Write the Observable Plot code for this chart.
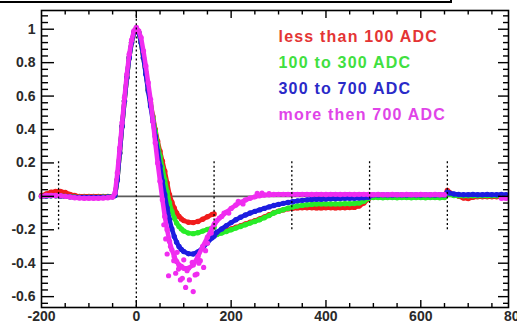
<!DOCTYPE html>
<html><head><meta charset="utf-8">
<script src="https://cdn.jsdelivr.net/npm/d3@7"></script>
<script src="https://cdn.jsdelivr.net/npm/@observablehq/plot@0.6"></script>
<style>
html,body{margin:0;padding:0;background:#fff;}
#wrap{position:relative;width:517px;height:323px;overflow:hidden;}
#titlebox{position:absolute;left:-2px;top:-2px;width:452px;height:3px;border-bottom:2px solid #000;border-right:2px solid #000;}
</style></head><body><div id="wrap"><div id="titlebox"></div></div>
<script>
// ---- data ----
const X = [-200,-190,-180,-170,-160,-150,-140,-130,-120,-110,-100,-90,-80,-70,-60,-50,-45,-40,-35,-30,-25,-20,-15,-10,-5,0,5,10,15,20,25,30,35,40,45,50,55,60,65,70,75,80,85,90,95,100,110,120,130,140,150,160,164,
166,170,180,190,200,210,220,230,240,250,260,270,280,290,300,310,320,330,340,350,360,370,380,390,400,410,420,430,440,450,460,470,480,490,
494,500,510,520,530,540,550,560,570,580,590,600,610,620,630,640,650,656,660,670,680,690,700,710,720,730,740,750,760,770,780];
const segmentStarts = [-200, 166, 494];

const seriesNames = ["less than 100 ADC", "100 to 300 ADC", "300 to 700 ADC", "more then 700 ADC"];

const redY = [0.005,0.015,0.025,0.03,0.03,0.024,0.012,0.005,0,0,0,0,0,0,0,0, 0.005,0.1,0.26,0.42,0.57,0.71,0.83,0.92,0.98,1.0, 0.98,0.92,0.83,0.74,0.64,0.56,0.48,0.40,0.33,0.27,0.21,0.15,0.08,0.01,-0.035,-0.07,-0.1,-0.12,-0.135,-0.145, -0.155,-0.157,-0.15,-0.137,-0.122,-0.108,-0.105,
-0.225,-0.223,-0.215,-0.205,-0.195,-0.185,-0.175,-0.165,-0.155,-0.145,-0.135,-0.123,-0.11,-0.098,-0.089,-0.081,-0.075,-0.071,-0.069,-0.068,-0.068,-0.068,-0.069,-0.069,-0.068,-0.068,-0.069,-0.068,-0.068,-0.067,-0.066,-0.058,-0.04,-0.015,
0,-0.003,-0.004,-0.004,-0.003,-0.004,-0.004,-0.003,-0.004,-0.004,-0.003,-0.004,-0.004,-0.003,-0.004,-0.004,-0.003,0.035,0.025,0.01,0,-0.01,-0.013,-0.006,-0.002,-0.002,-0.003,-0.002,-0.002,-0.003,-0.002];

const greenY = [0,0.002,0.003,0.003,0.002,0,-0.002,-0.004,-0.005,-0.005,-0.005,-0.005,-0.005,-0.004,-0.003,-0.001, 0.005,0.1,0.26,0.42,0.57,0.71,0.83,0.92,0.98,1.0, 0.98,0.92,0.83,0.74,0.64,0.55,0.47,0.39,0.31,0.24,0.17,0.1,0.03,-0.04,-0.09,-0.13,-0.16,-0.18,-0.195,-0.207, -0.22,-0.223,-0.218,-0.208,-0.198,-0.189,-0.186,
-0.23,-0.228,-0.22,-0.21,-0.2,-0.19,-0.18,-0.17,-0.16,-0.15,-0.14,-0.128,-0.115,-0.1,-0.09,-0.08,-0.071,-0.064,-0.058,-0.054,-0.05,-0.048,-0.046,-0.045,-0.045,-0.045,-0.045,-0.045,-0.044,-0.044,-0.043,-0.04,-0.03,-0.012,
-0.006,-0.007,-0.007,-0.008,-0.007,-0.007,-0.008,-0.007,-0.007,-0.008,-0.007,-0.007,-0.008,-0.007,-0.007,-0.008,-0.007,0.02,0.012,0.005,0.004,0.004,0.004,0.004,0.004,0.004,0.004,0.004,0.004,0.004,0.004];

const blueY = [0,0.002,0.003,0.003,0.002,0,-0.003,-0.005,-0.006,-0.006,-0.006,-0.006,-0.006,-0.005,-0.004,-0.002, 0.005,0.1,0.26,0.42,0.57,0.71,0.83,0.92,0.98,1.0, 0.98,0.92,0.83,0.73,0.63,0.54,0.45,0.36,0.27,0.18,0.09,0.01,-0.07,-0.14,-0.195,-0.24,-0.275,-0.3,-0.318,-0.33, -0.343,-0.345,-0.332,-0.308,-0.278,-0.248,-0.238,
-0.225,-0.215,-0.195,-0.175,-0.157,-0.14,-0.125,-0.112,-0.1,-0.09,-0.081,-0.072,-0.063,-0.055,-0.048,-0.042,-0.037,-0.032,-0.027,-0.024,-0.021,-0.019,-0.018,-0.017,-0.016,-0.015,-0.014,-0.013,-0.012,-0.012,-0.011,-0.01,-0.008,-0.005,
0.006,0.008,0.008,0.009,0.008,0.008,0.009,0.008,0.008,0.009,0.008,0.008,0.009,0.008,0.008,0.009,0.008,0.025,0.02,0.014,0.011,0.01,0.01,0.011,0.01,0.01,0.011,0.01,0.01,0.011,0.01];

const magentaY = [0,0.005,0.006,0.005,0.004,0,-0.004,-0.008,-0.01,-0.011,-0.011,-0.011,-0.011,-0.01,-0.008,-0.004, 0.02,0.14,0.29,0.44,0.59,0.73,0.85,0.935,0.99,1.01, 0.99,0.95,0.87,0.78,0.68,0.58,0.45,0.32,0.2,0.09,-0.02,-0.12,-0.2,-0.27,-0.32,-0.36,-0.39,-0.41,-0.42,-0.43, -0.43,-0.41,-0.36,-0.3,-0.245,-0.19,-0.17,
-0.16,-0.145,-0.12,-0.095,-0.072,-0.052,-0.036,-0.022,-0.011,-0.003,0.004,0.008,0.01,0.011,0.012,0.012,0.012,0.012,0.012,0.012,0.012,0.011,0.012,0.012,0.011,0.012,0.012,0.011,0.012,0.012,0.011,0.012,0.012,0.011,
0.01,0.01,0.011,0.01,0.01,0.011,0.01,0.01,0.011,0.01,0.01,0.011,0.01,0.01,0.011,0.01,0.01,null,null,null,null,null,null,null,null,null,null,null,null,-0.012,-0.012];

const magentaScatterX = [58,62,65,68,72,79,83,86,89,93,97,100,104,107,112,118,120,124,128,132,135,142,146,150,158,175,185,195,215,225,255,265,280];
const magentaScatterY = [-0.17,-0.255,-0.345,-0.475,-0.3,-0.385,-0.46,-0.335,-0.435,-0.5,-0.49,-0.38,-0.545,-0.445,-0.5,-0.395,-0.57,-0.47,-0.465,-0.4,-0.385,-0.425,-0.325,-0.28,-0.22,-0.13,-0.1,-0.1,-0.03,-0.045,0.018,0.02,0.016];

const xTicks = [-200, 0, 200, 400, 600, 800];
const xTickLabels = ["-200", "0", "200", "400", "600", "800"];
const xMajor = [0, 200, 400, 600];
const xMinor = [-150,-100,-50,50,100,150,250,300,350,450,500,550,650,700,750];
const yTicks = [-0.6,-0.4,-0.2,0,0.2,0.4,0.6,0.8,1];
const yTickLabels = ["-0.6","-0.4","-0.2","0","0.2","0.4","0.6","0.8","1"];
const yMinor = [-0.64,-0.56,-0.52,-0.48,-0.44,-0.36,-0.32,-0.28,-0.24,-0.16,-0.12,-0.08,-0.04,0.04,0.08,0.12,0.16,0.24,0.28,0.32,0.36,0.44,0.48,0.52,0.56,0.64,0.68,0.72,0.76,0.84,0.88,0.92,0.96,1.04,1.08];
const dottedFull = [0];
const dottedShort = [-164, 164, 328, 492, 656];
const dottedShortSpan = [-0.2, 0.21];
const xDomain = [-200, 785];
const yDomain = [-0.665, 1.112];

// ---- styles / layout ----
const seriesValues = [redY, greenY, blueY, magentaY];
const markerColors = ["#f01c1c", "#28ec28", "#1c1ce0", "#f02cf0"];
const legendColors = ["#e43434", "#40e040", "#2a2ac8", "#e044e8"];
const W = 517, H = 323, mL = 41, mR = 9, mT = 10, mB = 16;
const innerW = W - mL - mR, innerH = H - mT - mB;

function segOf(x) { let s = 0; segmentStarts.forEach((v, i) => { if (x >= v) s = i; }); return s; }

const marks = [];
marks.push(Plot.ruleY([0], {stroke: "#5a5a5a", strokeWidth: 1.6}));
seriesNames.forEach((name, k) => {
  const rows = X.map((x, i) => ({x, y: seriesValues[k][i], seg: segOf(x)}));
  marks.push(Plot.line(rows, {x: "x", y: "y", z: "seg", stroke: markerColors[k], strokeWidth: 4.5}));
  marks.push(Plot.dot(rows.filter(d => d.y != null), {x: "x", y: "y", r: 2.7, fill: markerColors[k], stroke: "none"}));
});
const scatter = magentaScatterX.map((x, i) => ({x, y: magentaScatterY[i]}));
marks.push(Plot.dot(scatter, {x: "x", y: "y", r: 2.6, fill: markerColors[3], stroke: "none"}));

// dotted markers
marks.push(Plot.ruleX(dottedFull, {stroke: "#000", strokeWidth: 1.3, strokeDasharray: "2,2.4"}));
marks.push(Plot.ruleX(dottedShort, {y1: dottedShortSpan[0], y2: dottedShortSpan[1], stroke: "#000", strokeWidth: 1.3, strokeDasharray: "2,2.4"}));

// ROOT-style inward ticks
const tk = {stroke: "#000", strokeWidth: 1.4};
marks.push(Plot.ruleX(xMajor, {...tk, insetTop: innerH - 7}));
marks.push(Plot.ruleX(xMinor, {...tk, insetTop: innerH - 4}));
marks.push(Plot.ruleX(xMajor, {...tk, insetBottom: innerH - 8}));
marks.push(Plot.ruleX(xMinor, {...tk, insetBottom: innerH - 4.5}));
marks.push(Plot.ruleY(yTicks, {...tk, insetRight: innerW - 13}));
marks.push(Plot.ruleY(yMinor, {...tk, insetRight: innerW - 7}));
marks.push(Plot.ruleY(yTicks, {...tk, insetLeft: innerW - 10}));
marks.push(Plot.ruleY(yMinor, {...tk, insetLeft: innerW - 5}));
marks.push(Plot.frame({stroke: "#000", strokeWidth: 1.6}));

// tick labels
marks.push(Plot.axisX(xTicks, {tickSize: 0, tickPadding: 4, label: null, fontSize: 14, fontWeight: "bold", color: "#2a2a2a",
  tickFormat: d => xTickLabels[xTicks.indexOf(d)]}));
marks.push(Plot.axisY(yTicks, {tickSize: 0, tickPadding: 6, label: null, fontSize: 14, fontWeight: "bold", color: "#2a2a2a",
  tickFormat: d => yTickLabels[yTicks.indexOf(d)]}));

// legend inside the frame
seriesNames.forEach((name, k) => {
  marks.push(Plot.text([name], {frameAnchor: "top-left", textAnchor: "start", lineAnchor: "bottom",
    dx: 237, dy: 31.5 + k * 25.9, fill: legendColors[k], fontSize: 16, fontWeight: "bold"}));
});

const chart = Plot.plot({
  width: W, height: H,
  marginLeft: mL, marginRight: mR, marginTop: mT, marginBottom: mB,
  x: {domain: xDomain, label: null},
  y: {domain: yDomain, label: null},
  style: {fontFamily: "'Liberation Sans', Arial, Helvetica, sans-serif", background: "#fff"},
  marks
});
// widen legend lettering like the reference
chart.querySelectorAll("text").forEach(t => {
  if (seriesNames.includes(t.textContent)) t.style.letterSpacing = "1.2px";
});
document.getElementById("wrap").appendChild(chart);
</script></body></html>
